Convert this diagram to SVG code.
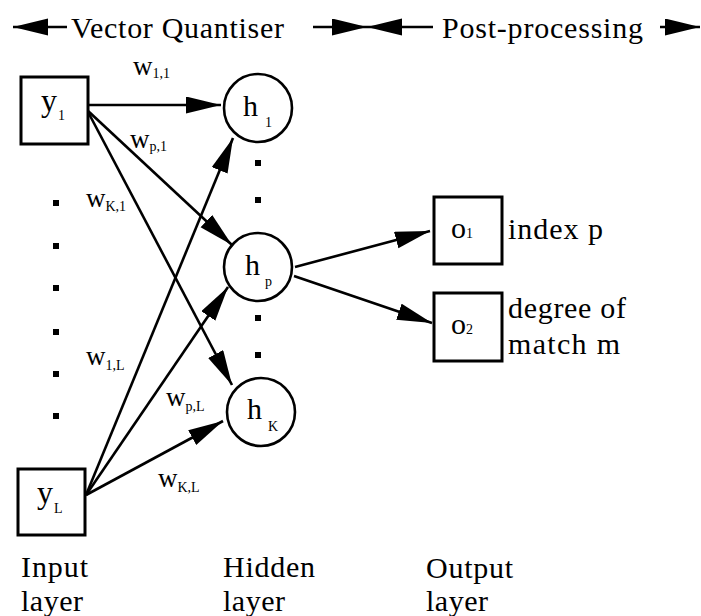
<svg xmlns="http://www.w3.org/2000/svg" width="701" height="616" viewBox="0 0 701 616">
<defs>
<marker id="ah" markerUnits="userSpaceOnUse" markerWidth="36" markerHeight="18" refX="35" refY="8.5" orient="auto">
<path d="M0,0 L35,8.5 L0,17 z" fill="#000"/>
</marker>
<style>
.f{font-family:"Liberation Serif","Times New Roman",serif;fill:#000}
.big{font-size:30px}
.w{font-size:27px}
.s{font-size:14px}
.box{fill:#fff;stroke:#000;stroke-width:3}
.nd{fill:#fff;stroke:#000;stroke-width:2.6}
.ln{stroke:#000;stroke-width:2.6;fill:none;marker-end:url(#ah)}
.dot{fill:#000}
</style>
</defs>
<rect width="701" height="616" fill="#fff"/>

<g id="header">
<line class="ln" x1="67" y1="27" x2="13" y2="27"/>
<text class="f big" x="71" y="38" textLength="213" lengthAdjust="spacing">Vector Quantiser</text>
<line class="ln" x1="313" y1="27" x2="367" y2="27"/>
<line class="ln" x1="433" y1="27" x2="367" y2="27"/>
<text class="f big" x="442" y="38" textLength="201" lengthAdjust="spacing">Post-processing</text>
<line class="ln" x1="660" y1="27" x2="700" y2="27"/>
</g>

<g id="connectors">
<line class="ln" x1="87" y1="105" x2="221" y2="105"/>
<line class="ln" x1="87" y1="110" x2="232" y2="245"/>
<line class="ln" x1="87" y1="110" x2="232" y2="385"/>
<line class="ln" x1="86" y1="495" x2="233" y2="138"/>
<line class="ln" x1="86" y1="495" x2="228" y2="287"/>
<line class="ln" x1="86" y1="495" x2="223" y2="421"/>
<line class="ln" x1="295" y1="267" x2="430" y2="231"/>
<line class="ln" x1="294" y1="276" x2="432" y2="323"/>
</g>

<g id="weights" class="f">
<text x="133" y="75"><tspan class="w">w</tspan><tspan class="s" dy="3">1,1</tspan></text>
<text x="130" y="148"><tspan class="w">w</tspan><tspan class="s" dy="3">p,1</tspan></text>
<text x="86" y="207"><tspan class="w">w</tspan><tspan class="s" dy="4">K,1</tspan></text>
<text x="86" y="365"><tspan class="w">w</tspan><tspan class="s" dy="5">1,L</tspan></text>
<text x="166" y="406"><tspan class="w">w</tspan><tspan class="s" dy="5">p,L</tspan></text>
<text x="158" y="487"><tspan class="w">w</tspan><tspan class="s" dy="5">K,L</tspan></text>
</g>

<g id="y1">
<rect class="box" x="21" y="77" width="67" height="67"/>
<text class="f" x="41" y="111"><tspan font-size="32px">y</tspan><tspan class="s" dx="1" dy="9">1</tspan></text>
</g>
<g id="yL">
<rect class="box" x="18" y="469" width="67" height="66"/>
<text class="f" x="37" y="503"><tspan font-size="32px">y</tspan><tspan class="s" dx="1" dy="10">L</tspan></text>
</g>

<g id="input-dots">
<rect class="dot" x="53" y="200" width="6" height="6"/>
<rect class="dot" x="53" y="243" width="6" height="6"/>
<rect class="dot" x="53" y="285" width="6" height="6"/>
<rect class="dot" x="53" y="329" width="6" height="6"/>
<rect class="dot" x="53" y="371" width="6" height="6"/>
<rect class="dot" x="53" y="413" width="6" height="6"/>
</g>

<g id="h1">
<circle class="nd" cx="258" cy="108" r="34"/>
<text class="f" x="243" y="116"><tspan class="big">h</tspan><tspan class="s" dx="7" dy="11">1</tspan></text>
</g>
<g id="hp">
<circle class="nd" cx="258" cy="267" r="34"/>
<text class="f" x="245" y="275"><tspan class="big">h</tspan><tspan class="s" dx="5" dy="11">p</tspan></text>
</g>
<g id="hK">
<circle class="nd" cx="261" cy="412" r="34"/>
<text class="f" x="247" y="419"><tspan class="big">h</tspan><tspan class="s" dx="6" dy="12">K</tspan></text>
</g>

<g id="hidden-dots">
<rect class="dot" x="255" y="160" width="6" height="6"/>
<rect class="dot" x="255" y="197" width="6" height="6"/>
<rect class="dot" x="255" y="315" width="6" height="6"/>
<rect class="dot" x="255" y="352" width="6" height="6"/>
</g>

<g id="o1">
<rect class="box" x="434" y="197" width="68" height="67"/>
<text class="f" x="451" y="238"><tspan font-size="30px">o</tspan><tspan class="s">1</tspan></text>
<text class="f big" x="508" y="239" textLength="95" lengthAdjust="spacing">index p</text>
</g>
<g id="o2">
<rect class="box" x="434" y="293" width="68" height="68"/>
<text class="f" x="451" y="334"><tspan font-size="30px">o</tspan><tspan class="s">2</tspan></text>
<text class="f big" x="508" y="318" textLength="118" lengthAdjust="spacing">degree of</text>
<text class="f big" x="508" y="354" textLength="112" lengthAdjust="spacing">match m</text>
</g>

<g id="layer-labels" class="f">
<text class="big" x="21" y="577" textLength="67" lengthAdjust="spacing">Input</text>
<text class="big" x="21" y="611" textLength="62" lengthAdjust="spacing">layer</text>
<text class="big" x="223" y="577" textLength="92" lengthAdjust="spacing">Hidden</text>
<text class="big" x="223" y="611" textLength="62" lengthAdjust="spacing">layer</text>
<text class="big" x="426" y="578" textLength="87" lengthAdjust="spacing">Output</text>
<text class="big" x="426" y="611" textLength="62" lengthAdjust="spacing">layer</text>
</g>
</svg>
